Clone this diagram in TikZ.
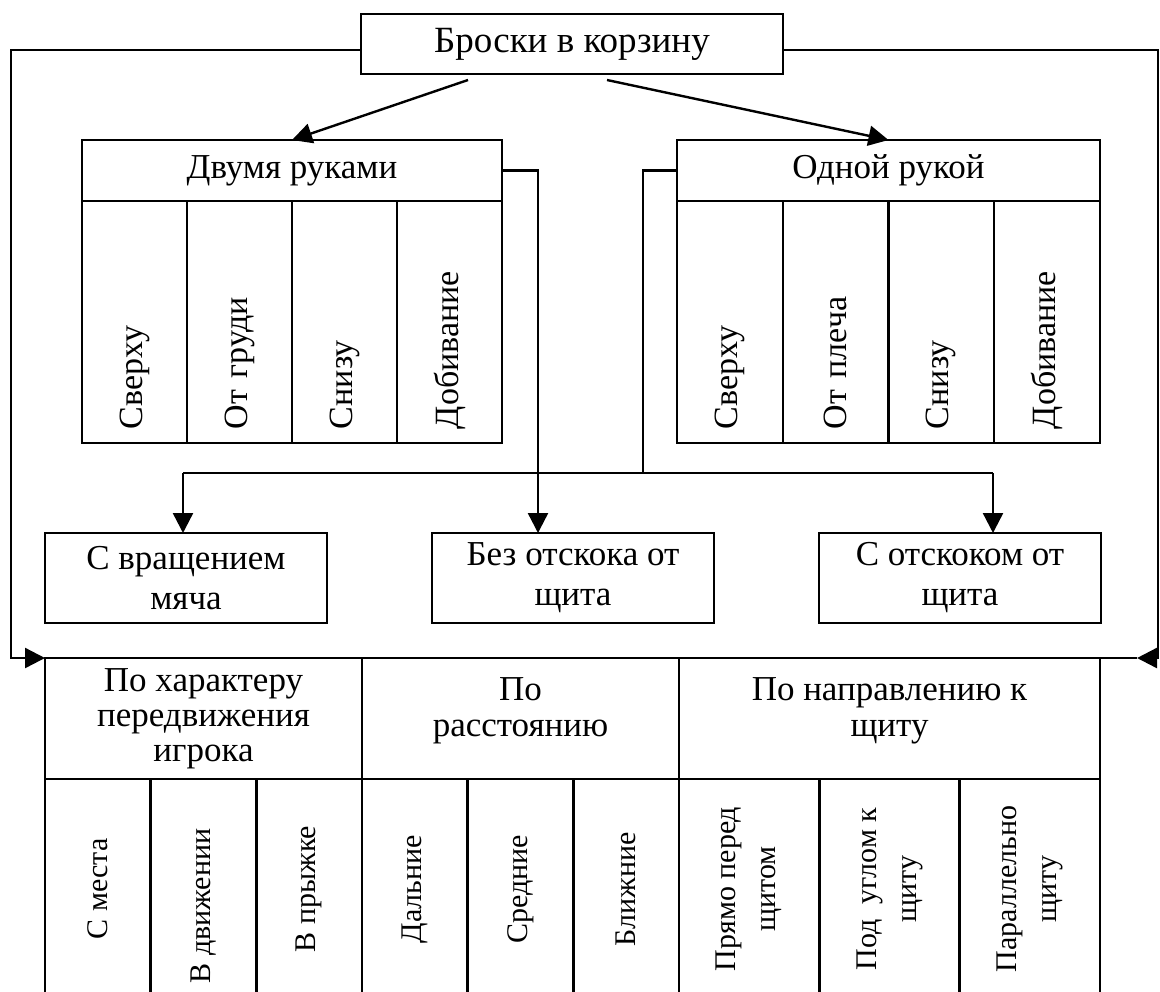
\documentclass[tikz,border=0pt]{standalone}
\usepackage{fontspec}
\setmainfont{Liberation Serif}
\usetikzlibrary{calc}
\usetikzlibrary{positioning}
\usetikzlibrary{arrows.meta}
\def\linew{very thick}
\newcommand{\fs}[2]{\fontsize{#1}{#2}\selectfont}
\tikzset{
box/.style={draw, \linew, align=center, inner sep=0pt, outer sep=0pt,
	font=\fs{17.5}{20}},
cell/.style 2 args={box, minimum width=#1, minimum height=#2},
midbox/.style={cell={141pt}{45pt}},
upcol/.style={box, rotate=90, minimum width=121pt, minimum height=#1,
	text width=107pt, align=left, inner xsep=7pt, font=\fs{17}{20}},
lowcol/.style={box, rotate=90, minimum width=110pt, minimum height=#1,
	font=\fs{15}{20}},
arr/.style={\linew, -{Triangle[length=10pt,width=10pt]}},
}

\begin{document}
\begin{tikzpicture}[x=0.5pt, y=-0.5pt]
\clip (0,0) rectangle (1160,991);
%Place the nodes
\node[cell={211pt}{30pt}, font=\fs{18.5}{20}] (throw) at (572,44) {Броски в корзину};
\node[cell={210pt}{30.5pt}] (twohand) at (292,170.5) {Двумя руками};
\node[cell={211.5pt}{30.5pt}] (onehand) at (888.5,170.5) {Одной рукой};

\foreach \t [count=\i] in {Сверху, От груди, Снизу, Добивание} {
	\node[upcol=52.5pt] (two\i) at ({82+105*(\i-0.5)}, 322) {\t};
}
\foreach \t [count=\i] in {Сверху, От плеча, Снизу, Добивание} {
	\node[upcol=52.875pt] (one\i) at ({677+105.75*(\i-0.5)}, 322) {\t};
}

\node[midbox] (spin) at (186,578) {С вращением\\мяча};
\node[midbox, right=52.5pt of spin] (noboard) {Без отскока от\\щита};
\node[midbox, right=52.5pt of noboard] (board) {С отскоком от\\щита};

%table
\node[cell={158.5pt}{60.5pt}, font=\fs{17.5}{17.5}] (motion) at (203.5,718.5) {По характеру\\передвижения\\игрока};
\node[cell={158.5pt}{60.5pt}, right=0pt of motion,
	label={[align=center, yshift=4pt, font=\fs{17.5}{18}]center:{По\\расстоянию}}] (dist) {};
\node[cell={210.5pt}{60.5pt}, right=0pt of dist,
	label={[align=center, yshift=4pt, font=\fs{17.5}{18}]center:{По направлению к\\щиту}}] (dir) {};

\foreach \xc/\w/\t [count=\i] in {97.8/52.83pt/С места, 203.5/52.83pt/{\mbox{В движении\hspace{17pt}}}, 309.2/52.83pt/В прыжке,
	414.8/52.83pt/Дальние, 520.5/52.83pt/Средние, 626.2/52.83pt/Ближние,
	749.2/70.17pt/{Прямо перед\\щитом}, 889.5/70.17pt/{Под~ углом к\\щиту}, 1029.8/70.17pt/{Параллельно\\щиту}} {
	\node[lowcol=\w] (low\i) at (\xc,889) {\t};
}

\coordinate (lc) at (11,50);
\coordinate (rc) at (1158,50);
\coordinate (rtip) at ($(dir.north east)+(37,0)$);
\coordinate (jl) at (538,0);
\coordinate (busm) at (643,473);
\coordinate (busl) at (183,473);
\coordinate (busr) at (993,473);

%
\draw[arr] ($(throw.south)+(-104,6)$) -- (twohand.north);
\draw[arr] ($(throw.south)+(35,6)$) -- (onehand.north);

%
\draw[arr] ($(throw.west)+(0,6)$) -- (lc) |- (motion.north west);
\draw[arr] ($(throw.east)+(0,6)$) -- (rc) |- (rtip);
\draw[\linew] (rtip) -- (dir.north east);

%
\draw[arr] (twohand.east) -| (jl |- noboard.north);
\draw[\linew] (onehand.west) -| (busm);
\draw[\linew] (busl) -- (busr);
\draw[arr] (busl) -- (busl |- spin.north);
\draw[arr] (busr) -- (busr |- board.north);

\end{tikzpicture}
\end{document}
